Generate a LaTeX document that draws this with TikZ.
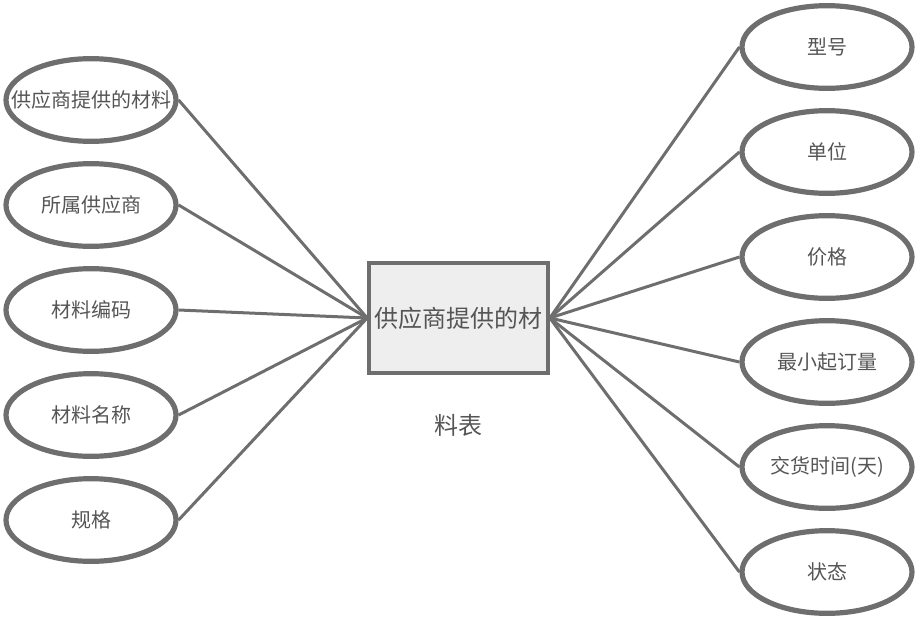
\documentclass[tikz,border=0pt]{standalone}
\usepackage{fontspec}
\newfontfamily\cjk{Noto Sans CJK SC}
\usepackage{tikz}
\usetikzlibrary{shapes.geometric}
\definecolor{erline}{RGB}{110,110,110}
\definecolor{ertext}{RGB}{85,85,85}
\definecolor{erfill}{RGB}{238,238,238}
\newcommand{\overflowtext}[1]{\makebox[0pt][c]{#1}}

\begin{document}
\begin{tikzpicture}[
  x=0.75pt, y=-0.75pt,
  attr/.style={ellipse, draw=erline, line width=3.9pt, fill=white,
               minimum width=127.5pt, minimum height=62pt, inner sep=0pt,
               text=ertext, font=\cjk\fontsize{15pt}{17pt}\selectfont},
  entity/.style={rectangle, draw=erline, line width=3pt, fill=erfill,
                 minimum width=134pt, minimum height=82pt, inner sep=0pt,
                 text=ertext, font=\cjk\fontsize{18pt}{20pt}\selectfont},
  link/.style={erline, line width=2.25pt}
]
\useasboundingbox (0,0) rectangle (917,636);
% entity
\node[entity] (tbl) at (458.5,318) {供应商提供的材};
\node[text=ertext, font=\cjk\fontsize{18pt}{20pt}\selectfont] (tblrest) at (458.5,425) {料表};
% left attributes
\node[attr] (a1) at (91,100) {\overflowtext{供应商提供的材料}};
\node[attr] (a2) at (91,205) {所属供应商};
\node[attr] (a3) at (91,310) {材料编码};
\node[attr] (a4) at (91,415) {材料名称};
\node[attr] (a5) at (91,520) {规格};
% right attributes
\node[attr] (b1) at (827,47) {型号};
\node[attr] (b2) at (827,152) {单位};
\node[attr] (b3) at (827,257) {价格};
\node[attr] (b4) at (827,362) {最小起订量};
\node[attr] (b5) at (827,467) {交货时间(天)};
\node[attr] (b6) at (827,572) {状态};
% links
\draw[link] (a1.east) -- (tbl.west);
\draw[link] (a2.east) -- (tbl.west);
\draw[link] (a3.east) -- (tbl.west);
\draw[link] (a4.east) -- (tbl.west);
\draw[link] (a5.east) -- (tbl.west);
\draw[link] (b1.west) -- (tbl.east);
\draw[link] (b2.west) -- (tbl.east);
\draw[link] (b3.west) -- (tbl.east);
\draw[link] (b4.west) -- (tbl.east);
\draw[link] (b5.west) -- (tbl.east);
\draw[link] (b6.west) -- (tbl.east);
\end{tikzpicture}
\end{document}
